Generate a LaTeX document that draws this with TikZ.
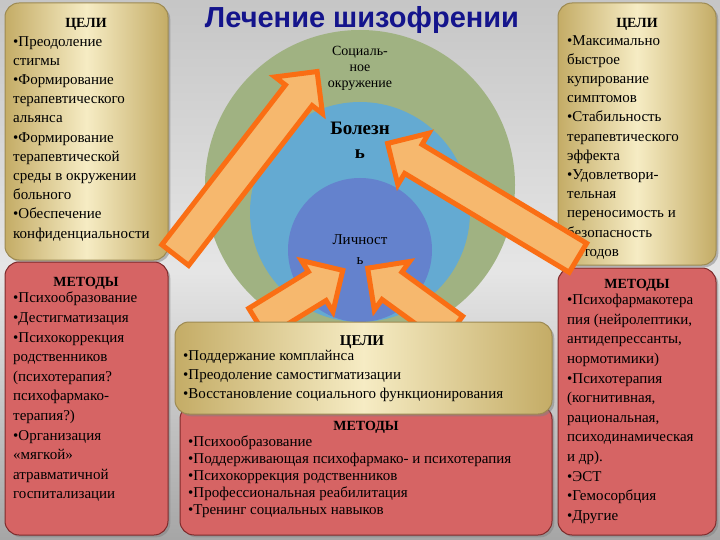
\documentclass[tikz,border=0pt]{standalone}
\usepackage{fontspec}
\setmainfont{Liberation Serif}
\newfontfamily\titlefont{Liberation Sans}
\usetikzlibrary{shapes.arrows,shadows}
\definecolor{tanA}{RGB}{246,236,196}
\definecolor{tanB}{RGB}{196,172,102}
\definecolor{redA}{RGB}{214,100,100}
\definecolor{redB}{RGB}{180,60,62}
\definecolor{ringG}{RGB}{160,178,130}
\definecolor{ringB}{RGB}{100,170,210}
\definecolor{ringI}{RGB}{100,130,205}
\definecolor{arrO}{RGB}{250,110,20}
\definecolor{arrF}{RGB}{246,184,110}
\definecolor{ttl}{RGB}{20,20,140}
\tikzset{
 goalbox/.style={rounded corners=14pt,draw=tanB!80!black,line width=1pt,left color=tanB,right color=tanB,middle color=tanA,drop shadow},
 methbox/.style={rounded corners=14pt,draw=redB!70!black,line width=1pt,fill=redA,drop shadow},
 txt/.style={align=left,font=\fontsize{15}{19.2}\selectfont,inner sep=0pt},
 bigarrow/.style={single arrow,draw=arrO,fill=arrF,line width=5pt,minimum width=60pt,single arrow head extend=12pt,inner sep=13pt,single arrow tip angle=90},
 ctr/.style={align=center,font=\fontsize{14}{16}\selectfont}
}
\begin{document}
\begin{tikzpicture}[x=1pt,y=-1pt]
\useasboundingbox (0,0) rectangle (720,540);
\shade[top color=gray!45,bottom color=gray!70,middle color=gray!20] (0,0) rectangle (720,540);
% circles
\fill[ringG] (360,185) circle (155);
\fill[ringB] (360,212) circle (110);
\fill[ringI] (360,250) circle (72);
\node[ctr] (soc) at (360,68) {Социаль-\\ное\\окружение};
\node[ctr,font=\fontsize{19}{24}\selectfont\bfseries] (bol) at (360,140) {Болезн\\ь};
\node[ctr,font=\fontsize{15}{20}\selectfont] (lic) at (360,250) {Личност\\ь};
% title
\node[font=\titlefont\bfseries\fontsize{29}{30}\selectfont,text=ttl] (title) at (362,20) {Лечение шизофрении};
% inner arrows
\node[bigarrow,minimum height=100pt,rotate=31.6] (a3) at (293,301) {};
\node[bigarrow,minimum height=105pt,rotate=144] (a4) at (417,304) {};
% side boxes
\draw[goalbox] (5,3) rectangle (168,260);
\node[anchor=north,font=\fontsize{14}{16}\selectfont\bfseries] (lgh) at (86,15) {ЦЕЛИ};
\node[txt,anchor=north west] (lgt) at (13,36) {•Преодоление\\стигмы\\•Формирование\\терапевтического\\альянса\\•Формирование\\терапевтической\\среды в окружении\\больного\\•Обеспечение\\конфиденциальности};
\draw[methbox] (5,262) rectangle (168,535);
\node[anchor=north,font=\fontsize{14}{16}\selectfont\bfseries] (lmh) at (86,274) {МЕТОДЫ};
\node[txt,anchor=north west,font=\fontsize{15}{19.6}\selectfont] (lmt) at (13,292) {•Психообразование\\•Дестигматизация\\•Психокоррекция\\родственников\\(психотерапия?\\психофармако-\\терапия?)\\•Организация\\«мягкой»\\атравматичной\\госпитализации};
\draw[goalbox] (558,3) rectangle (716,265);
\node[anchor=north,font=\fontsize{14}{16}\selectfont\bfseries] (rgh) at (637,15) {ЦЕЛИ};
\node[txt,anchor=north west] (rgt) at (567,35) {•Максимально\\быстрое\\купирование\\симптомов\\•Стабильность\\терапевтического\\эффекта\\•Удовлетвори-\\тельная\\переносимость и\\безопасность\\методов};
\draw[methbox] (558,268) rectangle (716,535);
\node[anchor=north,font=\fontsize{14}{16}\selectfont\bfseries] (rmh) at (637,276) {МЕТОДЫ};
\node[txt,anchor=north west,font=\fontsize{15}{19.6}\selectfont] (rmt) at (567,294) {•Психофармакотера\\пия (нейролептики,\\антидепрессанты,\\нормотимики)\\•Психотерапия\\(когнитивная,\\рациональная,\\психодинамическая\\и др).\\•ЭСТ\\•Гемосорбция\\•Другие};
% outer arrows
\node[bigarrow,minimum height=232pt,rotate=52.3] (a1) at (241,170) {};
\node[bigarrow,minimum height=222pt,rotate=149] (a2) at (490,205) {};
% center boxes
\draw[methbox] (180,405) rectangle (552,535);
\node[anchor=north,font=\fontsize{14}{16}\selectfont\bfseries] (cmh) at (366,418) {МЕТОДЫ};
\node[txt,anchor=north west,font=\fontsize{15}{17}\selectfont] (cmt) at (188,436) {•Психообразование\\•Поддерживающая психофармако- и психотерапия\\•Психокоррекция родственников\\•Профессиональная реабилитация\\•Тренинг социальных навыков};
\draw[goalbox] (175,322) rectangle (552,414);
\node[anchor=north,font=\fontsize{15}{16}\selectfont\bfseries] (cgh) at (362,332) {ЦЕЛИ};
\node[txt,anchor=north west,font=\fontsize{15}{19}\selectfont] (cgt) at (183,350) {•Поддержание комплайнса\\•Преодоление самостигматизации\\•Восстановление социального функционирования};
\end{tikzpicture}
\end{document}
